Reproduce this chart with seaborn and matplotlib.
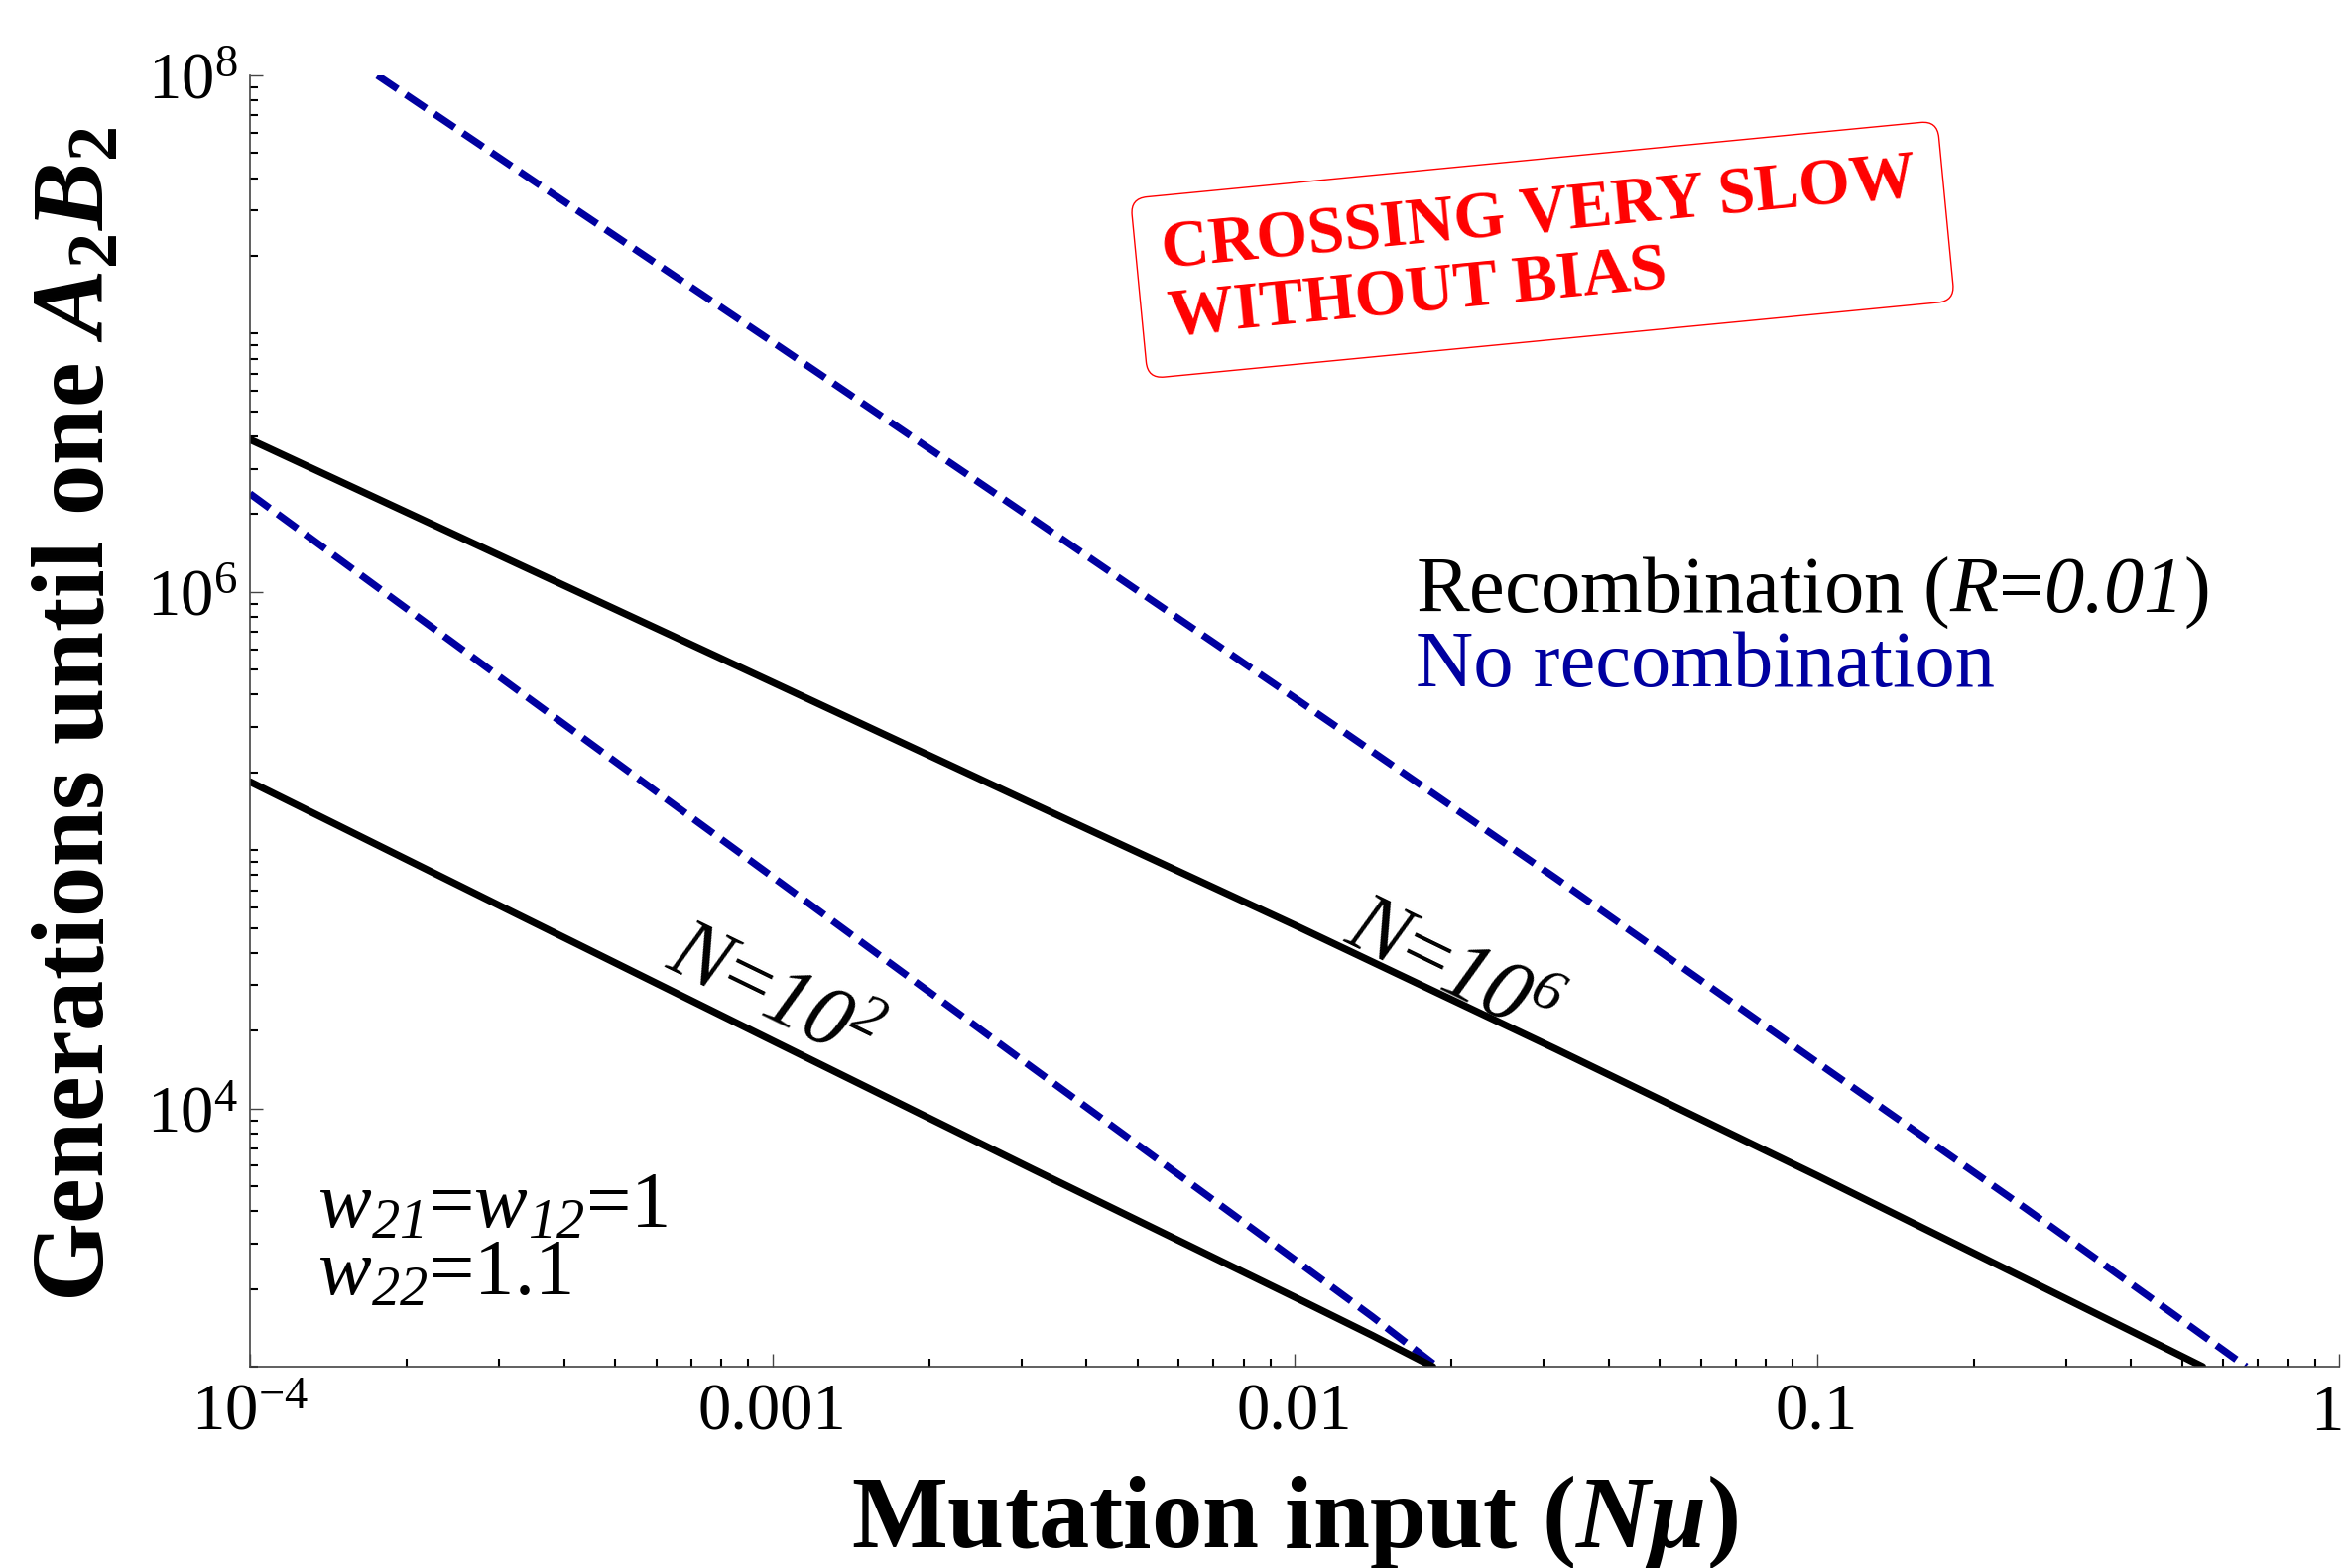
import numpy as np
import pandas as pd
import matplotlib
matplotlib.use("Agg")
import matplotlib.pyplot as plt
import matplotlib.transforms as mtransforms
import seaborn as sns
from matplotlib.ticker import FixedLocator, FixedFormatter, LogLocator, NullFormatter

# ---------------- data (N*mu, generations) ----------------
nmu_rec_n2 = [1e-4, 3.16e-4, 1e-3, 3.16e-3, 1e-2, 1.41e-2, 1.84e-2]
gen_rec_n2 = [1.84e5, 5.8e4, 1.83e4, 5.8e3, 1.86e3, 1.32e3, 1.0e3]

nmu_norec_n2 = [1e-4, 3.16e-4, 1e-3, 3.16e-3, 1e-2, 1.41e-2, 1.875e-2]
gen_norec_n2 = [2.40e6, 4.35e5, 7.9e4, 1.43e4, 2.6e3, 1.56e3, 1.0e3]

nmu_rec_n6 = [1e-4, 3.16e-4, 1e-3, 3.16e-3, 1e-2, 3.16e-2, 0.1, 0.251, 0.398, 0.548]
gen_rec_n6 = [3.89e6, 1.32e6, 4.47e5, 1.51e5, 5.13e4, 1.70e4, 5.5e3, 2.19e3, 1.38e3, 1.0e3]

nmu_norec_n6 = [1.754e-4, 3.16e-4, 1e-3, 3.16e-3, 1e-2, 3.16e-2, 0.1, 0.251, 0.447, 0.664]
gen_norec_n6 = [1e8, 4.47e7, 9.3e6, 1.91e6, 3.89e5, 7.8e4, 1.51e4, 4.1e3, 1.78e3, 1.0e3]

x_ticks = [1e-4, 1e-3, 1e-2, 1e-1, 1]
x_tick_labels = ["$10^{-4}$", "0.001", "0.01", "0.1", "1"]
y_ticks = [1e4, 1e6, 1e8]
y_tick_labels = ["$10^{4}$", "$10^{6}$", "$10^{8}$"]

BLUE = "#0000A0"

# ---------------- style ----------------
sns.set_style("white")
plt.rcParams["font.family"] = ["Liberation Serif", "DejaVu Serif"]
plt.rcParams["text.color"] = "black"
plt.rcParams["axes.labelcolor"] = "black"
plt.rcParams["xtick.color"] = "black"
plt.rcParams["ytick.color"] = "black"
plt.rcParams["mathtext.fontset"] = "custom"
plt.rcParams["mathtext.rm"] = "Liberation Serif"
plt.rcParams["mathtext.it"] = "Liberation Serif:italic"
plt.rcParams["mathtext.sf"] = "Liberation Serif:italic"
plt.rcParams["mathtext.bf"] = "Liberation Serif:bold"
try:
    plt.rcParams["mathtext.bfit"] = "Liberation Serif:bold:italic"
except KeyError:
    pass

df = pd.concat([
    pd.DataFrame({"nmu": nmu_norec_n2, "gen": gen_norec_n2, "model": "norec", "N": "1e2"}),
    pd.DataFrame({"nmu": nmu_norec_n6, "gen": gen_norec_n6, "model": "norec", "N": "1e6"}),
    pd.DataFrame({"nmu": nmu_rec_n2, "gen": gen_rec_n2, "model": "rec", "N": "1e2"}),
    pd.DataFrame({"nmu": nmu_rec_n6, "gen": gen_rec_n6, "model": "rec", "N": "1e6"}),
], ignore_index=True)

fig = plt.figure(figsize=(23.68, 15.81), dpi=100)
ax = fig.add_axes([0.10642, 0.12840, 0.88936, 0.82353])
ax.set_xscale("log")
ax.set_yscale("log")

sns.lineplot(data=df, x="nmu", y="gen", hue="model", style="model", units="N",
             estimator=None, sort=False,
             palette={"rec": "black", "norec": BLUE},
             dashes={"rec": "", "norec": (3.4, 1.4)},
             hue_order=["norec", "rec"], style_order=["norec", "rec"],
             lw=5.2, legend=False, ax=ax)

ax.set_xlim(1e-4, 1)
ax.set_ylim(1e3, 1e8)

# ticks
ax.xaxis.set_major_locator(FixedLocator(x_ticks))
ax.xaxis.set_major_formatter(FixedFormatter(x_tick_labels))
ax.yaxis.set_major_locator(FixedLocator(y_ticks))
ax.yaxis.set_major_formatter(FixedFormatter(y_tick_labels))
ax.xaxis.set_minor_locator(LogLocator(base=10, subs=np.arange(1, 10), numticks=50))
ax.yaxis.set_minor_locator(LogLocator(base=10, subs=np.arange(1, 10), numticks=50))
ax.xaxis.set_minor_formatter(NullFormatter())
ax.yaxis.set_minor_formatter(NullFormatter())
ax.tick_params(which="both", bottom=True, left=True, top=False, right=False)
ax.tick_params(which="major", direction="in", length=9.5, width=1.0, color="#444444",
               labelsize=48, labelcolor="black")
ax.tick_params(which="minor", direction="in", length=5.8, width=1.5, color="black")
ax.tick_params(axis="y", which="major", pad=9)
ax.tick_params(axis="x", which="major", pad=12)

for s in ["top", "right"]:
    ax.spines[s].set_visible(False)
for s in ["left", "bottom"]:
    ax.spines[s].set_linewidth(1.2)
    ax.spines[s].set_color("#444444")

# axis labels
ax.set_xlabel("Mutation input ($\\mathbfit{N\\mu}$)", fontsize=74, fontweight="bold")
ax.xaxis.set_label_coords(0.5, -0.140)
ax.xaxis.label.set_va("baseline")
ax.set_ylabel("Generations until one $\\mathbfit{A}_{\\mathbf{2}}\\mathbfit{B}_{\\mathbf{2}}$",
              fontsize=74, fontweight="bold")
ax.yaxis.set_label_coords(-0.0698, 0.505)
ax.yaxis.label.set_va("baseline")

# annotations
ax.text(0.558, 0.585, "Recombination ($\\mathsf{R}$=$\\mathsf{0.01}$)", transform=ax.transAxes,
        fontsize=58, color="black", va="baseline", ha="left")
ax.text(0.558, 0.527, "No recombination", transform=ax.transAxes,
        fontsize=58, color=BLUE, va="baseline", ha="left")

ax.text(0.0323, 0.1075, "$\\mathsf{w}_{\\mathsf{21}}$=$\\mathsf{w}_{\\mathsf{12}}$=1",
        transform=ax.transAxes, fontsize=58, va="baseline", ha="left")
ax.text(0.0323, 0.0553, "$\\mathsf{w}_{\\mathsf{22}}$=1.1",
        transform=ax.transAxes, fontsize=58, va="baseline", ha="left")

ax.text(10 ** -3.0, 10 ** 4.43, "$\\mathsf{N}$=$\\mathsf{10^{2}}$", fontsize=62, rotation=-26,
        rotation_mode="anchor", ha="center", va="center")
ax.text(10 ** -1.70, 10 ** 4.53, "$\\mathsf{N}$=$\\mathsf{10^{6}}$", fontsize=62, rotation=-26,
        rotation_mode="anchor", ha="center", va="center")

ax.text(0.6187, 0.865, "CROSSING VERY SLOW\nWITHOUT BIAS", transform=ax.transAxes,
        fontsize=48, fontweight="bold", color="red", rotation=5.5, rotation_mode="anchor",
        ha="center", va="center", multialignment="left", linespacing=1.15,
        bbox=dict(boxstyle="round,pad=0.4,rounding_size=0.25", fc="white", ec="red", lw=1.0))

# keep the last x tick label ("1") inside the figure
fig.canvas.draw()
last = ax.xaxis.get_majorticklabels()[-1]
last.set_horizontalalignment("right")
last.set_transform(last.get_transform() +
                   mtransforms.ScaledTranslation(4 / 100, 0, fig.dpi_scale_trans))

fig.savefig("out.png", dpi=100)
